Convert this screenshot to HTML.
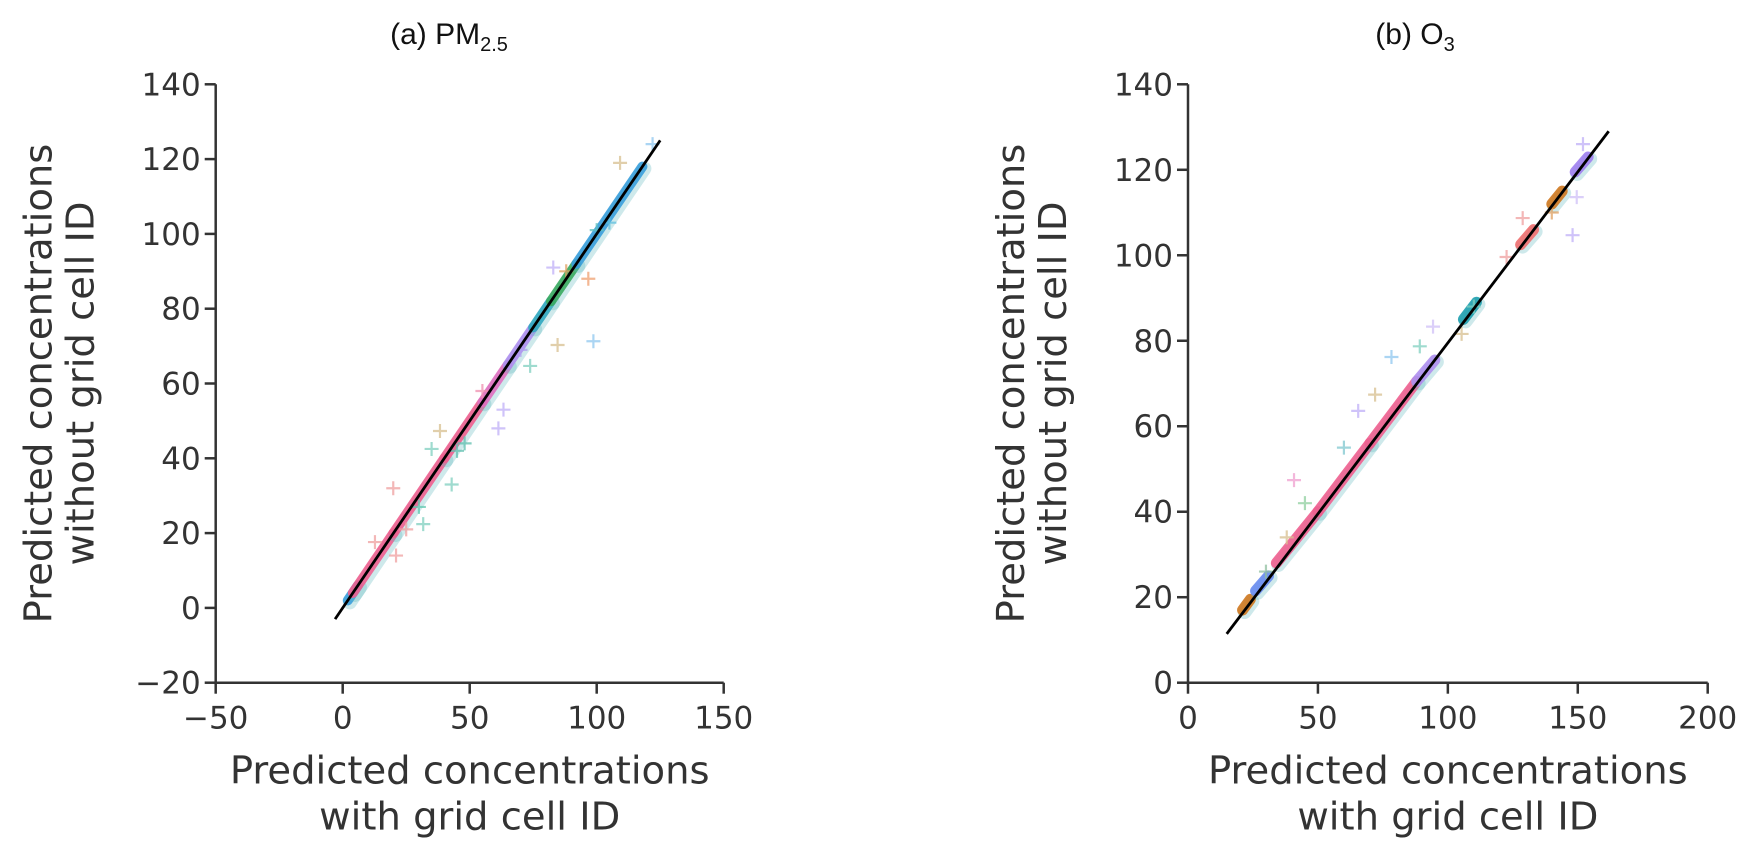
<!DOCTYPE html>
<html><head><meta charset="utf-8">
<style>
body{margin:0;background:#fff;}
svg{display:block;font-family:"DejaVu Sans","Liberation Sans",sans-serif;}
.tick{font-size:31px;fill:#333;}
.lab{font-size:38.5px;fill:#333;}
.ttl{font-size:30px;fill:#111;font-family:"Liberation Sans",sans-serif;}
</style></head>
<body>
<svg id="chart" width="1762" height="853" viewBox="0 0 1762 853">
<text class="ttl" x="449" y="44" text-anchor="middle">(a) PM<tspan font-size="20" dy="7">2.5</tspan></text>
<text class="ttl" x="1415" y="44" text-anchor="middle">(b) O<tspan font-size="20" dy="7">3</tspan></text>
<g id="pa"></g>
<g id="pb"></g>
</svg>
<script>
// ---- Panel A (PM2.5) data ----
const aXTicks=[-50,0,50,100,150];
const aYTicks=[-20,0,20,40,60,80,100,120,140];
const aBandX0=[2,4,20,40,55,65,75,82,92];
const aBandX1=[6,20,40,55,65,75,82,92,118];
const aBandC=['#3a9fdc','#f06090','#f06090','#f06090','#e070c0','#b090f0','#30a8c0','#3aaa60','#3a9fdc'];
const aPtX=[109.2,98.7,84.6,82.9,96.7,61.3,63.3,73.8,19.9,31.7,38.3,35,42.9,12.7,21,122,88,100,105,70,55,48,30,25,45];
const aPtY=[119,71.3,70.3,91,88,48,53,64.7,32,22.4,47.3,42.5,33,17.6,14,124,90,101,103,69,58,44,27,21,42];
const aPtC=['#d8c090','#90c8f0','#d8c090','#c0b0f8','#f0a070','#c0b0f8','#c0b0f8','#80d0c0','#f0a0a0','#80d0c0','#d8c090','#80d0c0','#80d0c0','#f0a0a0','#f0a0a0','#90c8f0','#e0a060','#60c0c0','#60c0e0','#b0a0f0','#f090b0','#60c0b0','#60c8b0','#f0a0a0','#60c0b0'];
const aLine=[-3,125];
// ---- Panel B (O3) data ----
const bXTicks=[0,50,100,150,200];
const bYTicks=[0,20,40,60,80,100,120,140];
const bBandX0=[21,26,34,50,70,88,106,128,140,149];
const bBandX1=[24,31,50,70,88,95,111,133,144,154];
const bBandY0=[17,21.5,28,40,56,70.5,85,102.5,112,119.5];
const bBandY1=[19.5,25,40,56,70.5,75.5,89,106,115,123];
const bBandC=['#d07820','#6a8cf0','#f06090','#f06090','#f06090','#b090f0','#20a0b0','#f07070','#d07820','#a080f0'];
const bPtX=[40.8,94.3,148,149.6,78.3,89.2,72,65.5,105.3,128.8,122.6,152,60,45,38,30,110,140];
const bPtY=[47.4,83.3,104.7,113.6,76.2,78.7,67.4,63.6,81.6,108.7,99.6,126,55,42,34,26,88,110];
const bPtC=['#f0a0d0','#d0c0f8','#c0b0f8','#d0c0f8','#90c8f0','#80d0c0','#d8c090','#c0b0f8','#d8c090','#f0a0a0','#f0a0a0','#c0b0f8','#80c8d0','#90d0a0','#d8c090','#90c0a0','#80d0c0','#e0a060'];
const bLineX=[14.9,161.9];
const bSlope=0.8, bInt=-0.5;

const NS='http://www.w3.org/2000/svg';
function mk(parent,tag,at){const e=document.createElementNS(NS,tag);for(const k in at)e.setAttribute(k,at[k]);parent.appendChild(e);return e;}
function axes(g,x0,x1,y0,y1,xd,yd,xt,yt){
  const sx=v=>x0+(v-xd[0])/(xd[1]-xd[0])*(x1-x0);
  const sy=v=>y0-(v-yd[0])/(yd[1]-yd[0])*(y0-y1);
  let l=mk(g,'line',{x1:x0,y1:y0,x2:x1,y2:y0,stroke:'#333','stroke-width':2.5});
  
  l=mk(g,'line',{x1:x0,y1:y0,x2:x0,y2:y1,stroke:'#333','stroke-width':2.5});
  
  xt.forEach(v=>{const x=sx(v);mk(g,'line',{x1:x,y1:y0,x2:x,y2:y0+11,stroke:'#333','stroke-width':2.5});
    const t=mk(g,'text',{x:x,y:y0+46,'text-anchor':'middle',class:'tick'});t.textContent=(v<0?'\u2212'+(-v):v);
    });
  yt.forEach(v=>{const y=sy(v);mk(g,'line',{x1:x0-11,y1:y,x2:x0,y2:y,stroke:'#333','stroke-width':2.5});
    const t=mk(g,'text',{x:x0-15,y:y+11,'text-anchor':'end',class:'tick'});t.textContent=(v<0?'\u2212'+(-v):v);
    });
  const cx=(x0+x1)/2, cy=(y0+y1)/2;
  let t=mk(g,'text',{x:cx,y:y0+101,'text-anchor':'middle',class:'lab'});t.textContent='Predicted concentrations';
  
  t=mk(g,'text',{x:cx,y:y0+147,'text-anchor':'middle',class:'lab'});t.textContent='with grid cell ID';
  
  t=mk(g,'text',{x:0,y:0,'text-anchor':'middle',class:'lab',transform:`translate(${x0-164},${cy}) rotate(-90)`});t.textContent='Predicted concentrations';
  
  t=mk(g,'text',{x:0,y:0,'text-anchor':'middle',class:'lab',transform:`translate(${x0-122},${cy}) rotate(-90)`});t.textContent='without grid cell ID';
  
  return [sx,sy];
}
function plus(g,x,y,c){const p=mk(g,'path',{d:`M${x-7},${y}h14M${x},${y-7}v14`,stroke:c,'stroke-width':2.2,opacity:0.75});
  }

// Panel A
(function(){
  const g=document.getElementById('pa');
  const [sx,sy]=axes(g,215.7,723.7,682.7,84.3,[-50,150],[-20,140],aXTicks,aYTicks);
  aBandX0.forEach((a,i)=>{const b=aBandX1[i];
    let h=mk(g,'line',{x1:sx(a)+2,y1:sy(a)+2,x2:sx(b)+2,y2:sy(b)+2,stroke:'#60b8c0','stroke-width':14,'stroke-linecap':'round',opacity:0.3});
    
    const s=mk(g,'line',{x1:sx(a),y1:sy(a),x2:sx(b),y2:sy(b),stroke:aBandC[i],'stroke-width':10,'stroke-linecap':'round',opacity:0.9});
    });
  aPtX.forEach((v,i)=>plus(g,sx(v),sy(aPtY[i]),aPtC[i]));
  const l=mk(g,'line',{x1:sx(aLine[0]),y1:sy(aLine[0]),x2:sx(aLine[1]),y2:sy(aLine[1]),stroke:'#000','stroke-width':2.8});
  
})();
// Panel B
(function(){
  const g=document.getElementById('pb');
  const [sx,sy]=axes(g,1188,1707.7,682.7,84.3,[0,200],[0,140],bXTicks,bYTicks);
  bBandX0.forEach((a,i)=>{const b=bBandX1[i];
    let h=mk(g,'line',{x1:sx(a)+2,y1:sy(bBandY0[i])+2,x2:sx(b)+2,y2:sy(bBandY1[i])+2,stroke:'#60b8c0','stroke-width':14,'stroke-linecap':'round',opacity:0.3});
    
    const s=mk(g,'line',{x1:sx(a),y1:sy(bBandY0[i]),x2:sx(b),y2:sy(bBandY1[i]),stroke:bBandC[i],'stroke-width':11,'stroke-linecap':'round',opacity:0.9});
    });
  bPtX.forEach((v,i)=>plus(g,sx(v),sy(bPtY[i]),bPtC[i]));
  const f=x=>bSlope*x+bInt;
  const l=mk(g,'line',{x1:sx(bLineX[0]),y1:sy(f(bLineX[0])),x2:sx(bLineX[1]),y2:sy(f(bLineX[1])),stroke:'#000','stroke-width':2.8});
  
})();
</script>
</body></html>
